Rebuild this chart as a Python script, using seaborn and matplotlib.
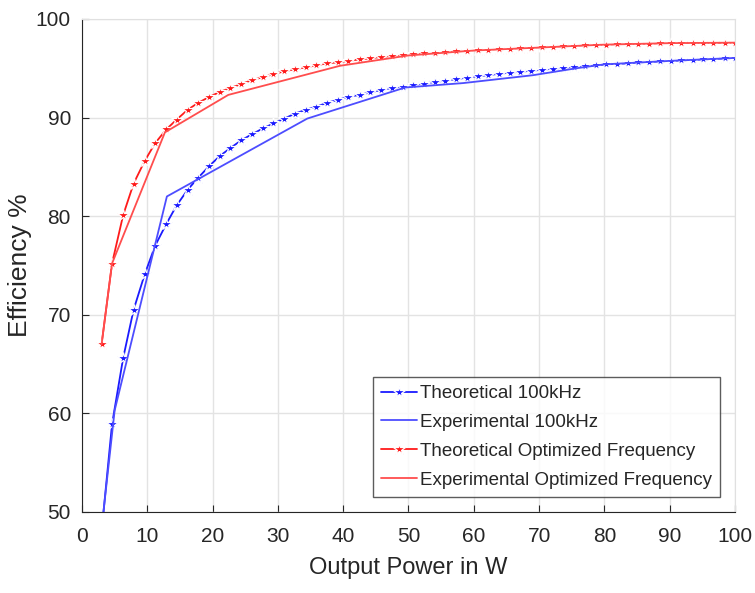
import matplotlib

matplotlib.use("Agg")
import matplotlib.pyplot as plt
import seaborn as sns

# output power (W) for the theoretical curves
theory_power = [
    3.0, 4.6, 6.3, 7.9, 9.6, 11.2, 12.9, 14.5, 16.2, 17.8,
    19.5, 21.1, 22.7, 24.4, 26.0, 27.7, 29.3, 31.0, 32.6, 34.3,
    35.9, 37.5, 39.2, 40.8, 42.5, 44.1, 45.8, 47.4, 49.1, 50.7,
    52.3, 54.0, 55.6, 57.3, 58.9, 60.6, 62.2, 63.9, 65.5, 67.1,
    68.8, 70.4, 72.1, 73.7, 75.4, 77.0, 78.7, 80.3, 81.9, 83.6,
    85.2, 86.9, 88.5, 90.2, 91.8, 93.5, 95.1, 96.7, 98.4, 100.0,
]
theory_100khz = [
    48.0, 58.9, 65.6, 70.5, 74.1, 77.0, 79.2, 81.1, 82.7, 83.9,
    85.1, 86.1, 86.9, 87.7, 88.3, 88.9, 89.4, 89.9, 90.4, 90.8,
    91.1, 91.5, 91.8, 92.1, 92.3, 92.55, 92.8, 93.0, 93.15, 93.3,
    93.45, 93.6, 93.75, 93.9, 94.05, 94.2, 94.3, 94.45, 94.55, 94.65,
    94.75, 94.85, 94.95, 95.05, 95.15, 95.2, 95.3, 95.4, 95.45, 95.5,
    95.6, 95.65, 95.7, 95.75, 95.8, 95.85, 95.9, 95.95, 96.0, 96.05,
]
theory_opt = [
    67.0, 75.2, 80.1, 83.3, 85.6, 87.4, 88.8, 89.8, 90.8, 91.5,
    92.1, 92.6, 93.0, 93.4, 93.8, 94.1, 94.4, 94.7, 94.9, 95.1,
    95.3, 95.5, 95.6, 95.75, 95.9, 96.0, 96.15, 96.25, 96.35, 96.45,
    96.55, 96.6, 96.7, 96.75, 96.8, 96.85, 96.9, 96.95, 97.0, 97.05,
    97.1, 97.15, 97.2, 97.25, 97.3, 97.35, 97.4, 97.4, 97.45, 97.45,
    97.5, 97.5, 97.55, 97.55, 97.6, 97.6, 97.6, 97.6, 97.6, 97.6,
]

# measured points
exp_100khz_power = [3.0, 5.0, 13.0, 34.5, 49.5, 58.4, 69.1, 75.7, 80.0, 90.0, 100.0]
exp_100khz = [48.3, 60.3, 82.0, 89.9, 93.05, 93.5, 94.3, 95.0, 95.4, 95.75, 96.05]
exp_opt_power = [3.0, 4.6, 12.7, 22.4, 39.5, 50.0, 60.0, 70.0, 80.0, 90.0, 100.0]
exp_opt = [67.0, 75.2, 88.5, 92.3, 95.25, 96.3, 96.8, 97.1, 97.4, 97.55, 97.6]

labels = [
    "Theoretical 100kHz",
    "Experimental 100kHz",
    "Theoretical Optimized Frequency",
    "Experimental Optimized Frequency",
]

sns.set_style("white")
plt.rcParams["font.family"] = ["Liberation Sans", "DejaVu Sans"]

fig = plt.figure(figsize=(7.55, 5.93), dpi=100)
ax = fig.add_axes([0.1086, 0.1366, 0.8649, 0.8314])

sns.lineplot(x=theory_power, y=theory_100khz, ax=ax, color="#1a1aff", lw=1.3,
             marker="*", markersize=9, markeredgewidth=0.9, sort=False, label=labels[0])
sns.lineplot(x=exp_100khz_power, y=exp_100khz, ax=ax, color="#4d4dff", lw=1.3,
             sort=False, label=labels[1])
sns.lineplot(x=theory_power, y=theory_opt, ax=ax, color="#ff1a1a", lw=1.3,
             marker="*", markersize=9, markeredgewidth=0.9, sort=False, label=labels[2])
sns.lineplot(x=exp_opt_power, y=exp_opt, ax=ax, color="#ff4d4d", lw=1.3,
             sort=False, label=labels[3])

ax.set_xlim(0, 100)
ax.set_ylim(50, 100)
ax.set_xticks(range(0, 101, 10))
ax.set_yticks(range(50, 101, 10))
ax.grid(True, color="#e3e3e3", lw=1)
ax.tick_params(direction="in", length=5, labelsize=15, colors="#262626",
               bottom=True, left=True)
ax.tick_params(axis="x", pad=11)
ax.tick_params(axis="y", pad=8)
for side in ["left", "bottom"]:
    ax.spines[side].set_color("#262626")
for side in ["top", "right"]:
    ax.spines[side].set_color("#e0e0e0")

ax.set_xlabel("Output Power in W", fontsize=17, color="#262626", labelpad=8)
ax.set_ylabel("Efficiency %", fontsize=19, color="#262626", labelpad=3)

leg = ax.legend(loc="lower right", fontsize=13.5, frameon=True, fancybox=False,
                borderpad=0.45, labelspacing=0.62, handlelength=1.9,
                handletextpad=0.15, borderaxespad=0.8)
leg.get_frame().set_edgecolor("#333333")
leg.get_frame().set_linewidth(1.0)

fig.savefig("out.png", dpi=100)
